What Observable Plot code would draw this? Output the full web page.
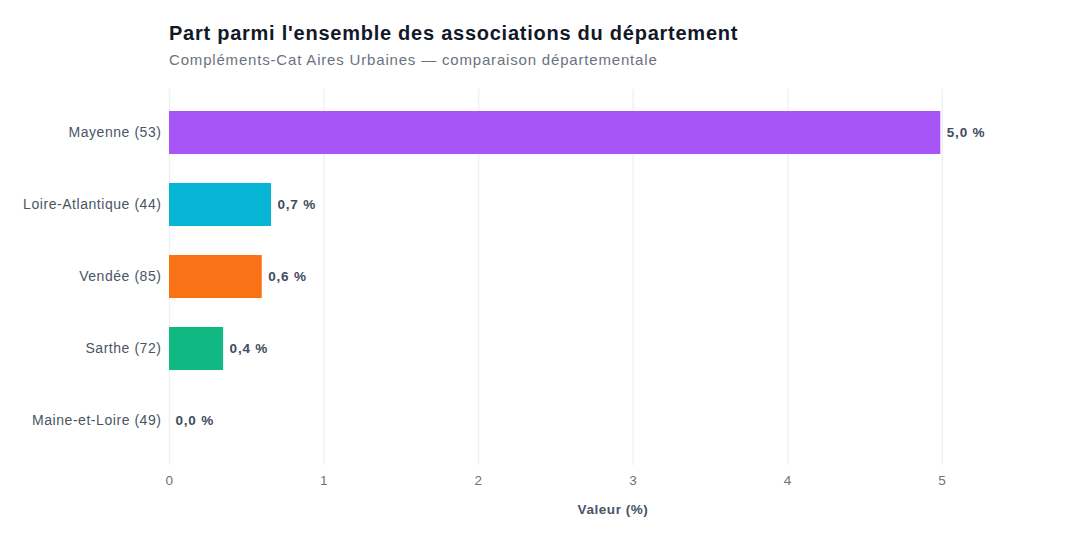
<!DOCTYPE html>
<html>
<head>
<meta charset="utf-8">
<script src="https://cdn.jsdelivr.net/npm/d3@7"></script>
<script src="https://cdn.jsdelivr.net/npm/@observablehq/plot@0.6"></script>
<style>
  html, body { margin: 0; padding: 0; background: #ffffff; }
  body { width: 1080px; height: 540px; position: relative; overflow: hidden; font-family: "Liberation Sans", Arial, sans-serif; }
  #title { position: absolute; left: 169px; top: 21px; font-size: 20px; font-weight: bold; color: #111827; line-height: 24px; white-space: nowrap; letter-spacing: 0.75px; }
  #subtitle { position: absolute; left: 169px; top: 51px; font-size: 15px; color: #6b7280; line-height: 18px; white-space: nowrap; letter-spacing: 0.82px; }
  #chart { position: absolute; left: 0; top: 80px; }
  #chart svg text { letter-spacing: 0.55px; }
  #chart svg .vals text { letter-spacing: 0.8px; }
</style>
</head>
<body>
<div id="title">Part parmi l'ensemble des associations du département</div>
<div id="subtitle">Compléments-Cat Aires Urbaines — comparaison départementale</div>
<div id="chart"></div>
<script>
const departements = ["Mayenne (53)", "Loire-Atlantique (44)", "Vendée (85)", "Sarthe (72)", "Maine-et-Loire (49)"];
const valeurs = [4.99, 0.66, 0.60, 0.35, 0.0];
const couleurs = ["#a855f7", "#06b6d4", "#f97316", "#10b981", "#3b82f6"];
const xTicks = [0, 1, 2, 3, 4, 5];

const data = departements.map((d, i) => ({dep: d, val: valeurs[i], color: couleurs[i]}));
const fmt = v => (Math.round(v * 10) / 10).toFixed(1).replace(".", ",") + " %";
const xMax = d3.max(valeurs) * 1.15;

const chart = Plot.plot({
  width: 1080,
  height: 460,
  marginLeft: 169,
  marginRight: 24,
  marginTop: 9,
  marginBottom: 75,
  style: { fontFamily: "'Liberation Sans', Arial, sans-serif", fontSize: "13px", background: "transparent" },
  x: { domain: [0, xMax], ticks: xTicks, label: null },
  y: { domain: departements, padding: 0.4, paddingOuter: 0.3, label: null },
  marks: [
    Plot.gridX(xTicks, { stroke: "#e5e7eb", strokeOpacity: 0.6, strokeWidth: 1.5 }),
    Plot.barX(data, { y: "dep", x: "val", fill: "color" }),
    Plot.text(data, { y: "dep", x: "val", text: d => fmt(d.val), textAnchor: "start", dx: 6, fontWeight: "bold", fontSize: 13.5, fill: "#3f4b5e", className: "vals" }),
    Plot.axisX(xTicks, { tickSize: 0, tickPadding: 10, fontSize: 13.5, color: "#6b7280", label: null, tickFormat: d3.format("d") }),
    Plot.axisY({ tickSize: 0, tickPadding: 8, fontSize: 14, color: "#4b5563", label: null }),
    Plot.text(["Valeur (%)"], { frameAnchor: "bottom", dy: 48, fontWeight: "bold", fontSize: 13.5, fill: "#475569" })
  ]
});
document.getElementById("chart").appendChild(chart);
</script>
</body>
</html>
